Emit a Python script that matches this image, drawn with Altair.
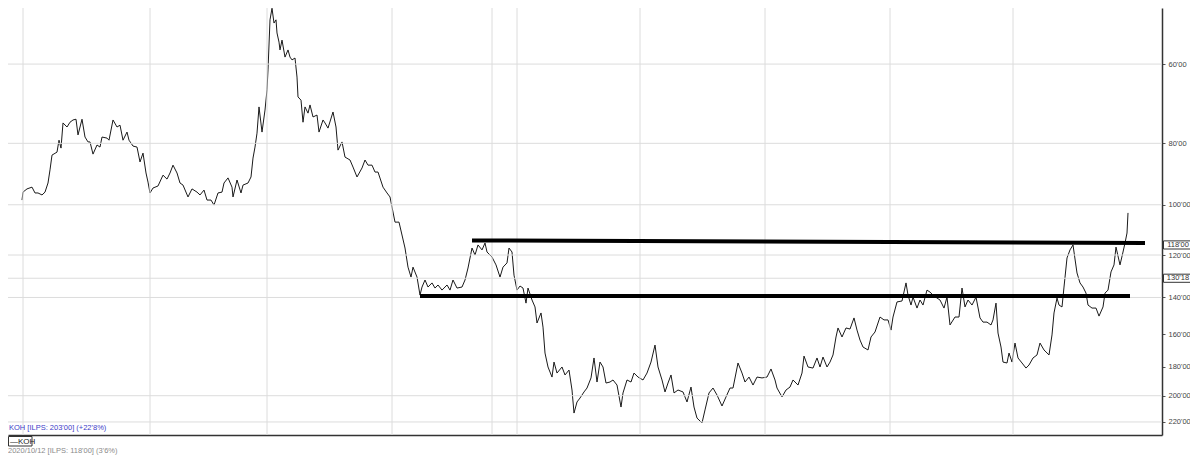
import altair as alt
import pandas as pd

# ---- price series (bar index, price) ----
bars = [
    0, 1, 5, 10, 13, 16, 20, 23, 26, 28, 30, 35, 37, 39, 41, 45, 48, 51, 54, 56,
    60, 63, 66, 68, 71, 75, 78, 80, 85, 87, 91, 95, 98, 101, 105, 107, 111, 115, 118, 121,
    124, 126, 128, 131, 136, 141, 145, 148, 151, 155, 158, 161, 166, 170, 175, 178, 182, 185, 189, 192,
    196, 200, 202, 206, 210, 211, 215, 219, 221, 226, 229, 231, 233, 235, 237, 240, 243, 245, 246, 248, 250,
    252, 254, 255, 257, 258, 260, 263, 266, 268, 270, 273, 275, 276, 279, 281, 283, 286, 288, 291, 295,
    297, 301, 303, 306, 311, 314, 316, 320, 323, 328, 331, 335, 340, 343, 346, 350, 353, 356, 361, 365,
    368, 373, 377, 383, 386, 389, 391, 395, 398,
    400, 403, 406, 410, 413, 416, 420, 425, 428, 431, 435, 440, 443, 446, 450, 453, 456, 460, 463, 465,
    470, 474, 478, 481, 485, 487, 490, 492, 495, 498, 501, 504, 506, 510, 513, 515, 519, 521, 523, 526,
    530, 532, 535, 540, 543, 547, 550, 552, 555, 558, 562, 565, 569, 572, 575, 578, 581, 584, 588, 591,
    595, 599, 601, 605, 609, 612, 616, 621, 625, 629, 633, 636, 640, 643, 646, 649, 652, 656,
    661, 665, 669, 672, 675, 680, 683, 687, 691, 695, 700, 704, 708, 711, 716, 720, 723, 727, 731, 735,
    740, 745, 749, 753, 755, 760, 764, 768, 771, 776, 780, 782, 786, 791, 795, 798, 801, 805, 808, 811,
    814, 816, 820, 824, 828, 832, 835, 838, 841, 846, 849, 853, 858, 862, 866, 869, 871, 875, 880, 884,
    886, 889, 891, 895,
    898, 901, 905, 908, 911, 915, 918, 922, 925, 928, 933, 937, 940, 943, 946, 950, 954, 958, 961, 965,
    969, 971, 974, 976, 979, 981, 985, 987, 990, 993, 996, 1000, 1004, 1007, 1011, 1015, 1018, 1022, 1027, 1030,
    1032, 1035, 1037, 1040, 1042, 1045, 1048, 1051, 1055, 1058, 1061, 1064, 1066, 1070, 1074, 1077, 1081, 1083, 1086, 1089,
    1092, 1094, 1098, 1101, 1103, 1105, 1106,
]
prices = [
    98.3, 95.5, 94.4, 93.8, 95.8, 95.8, 96.5, 95.5, 92.4, 88.1, 83.5, 82.6, 79.1, 81.4, 74.3, 75.4, 74.1, 73.5, 73.3, 77.6,
    73.3, 78.2, 79.6, 79.6, 83.2, 80.5, 81.1, 78.2, 78.5, 79.1, 73.5, 75.4, 74.9, 79.1, 76.8, 79.1, 80.8, 81.1, 85.6, 82.9,
    89.1, 92.1, 95.8, 94.1, 93.4, 89.8, 91.1, 89.1, 86.6, 89.1, 92.4, 93.1, 97.2, 94.4, 95.5, 96.5, 94.8, 98.3, 98.3, 100.1,
    95.8, 95.5, 92.4, 90.7, 93.8, 97.2, 91.4, 95.8, 93.1, 92.4, 90.4, 84.4, 81.1, 77.1, 70.1, 76.8, 70.9, 65.9, 61.3, 51.1, 49.0,
    51.7, 51.1, 53.6, 55.4, 57.0, 55.0, 58.5, 57.0, 58.5, 59.1, 58.7, 62.9, 67.6, 68.4, 74.1, 70.1, 71.7, 69.6, 72.7, 72.2,
    76.8, 73.5, 74.3, 75.7, 71.4, 75.4, 82.0, 79.6, 84.1, 85.0, 87.2, 90.4, 87.5, 85.0, 86.6, 86.6, 88.8, 88.8, 93.8, 95.8,
    97.2, 106.5, 106.5, 117.0, 125.4, 130.0, 125.4, 130.0, 138.8,
    134.8, 131.4, 134.8, 132.8, 135.3, 133.8, 136.3, 133.8, 136.3, 131.4, 135.3, 134.8, 131.4, 125.8, 117.0, 120.0, 115.7, 117.8, 114.9, 118.7,
    120.9, 124.4, 130.0, 125.4, 123.5, 117.0, 118.7, 129.1, 136.3, 134.3, 135.3, 142.9, 135.3, 141.3, 144.9, 153.6, 148.1, 155.9, 171.3, 180.2,
    186.9, 177.0, 184.2, 180.2, 185.5, 182.2, 195.9, 213.0, 204.6, 201.7, 197.3, 194.5, 187.5, 174.4, 190.3, 177.0, 180.2, 191.0, 190.3, 188.9,
    192.4, 208.4, 198.0, 188.9, 190.3, 184.2, 186.9, 188.9, 184.2, 177.0, 166.4, 180.2, 188.9, 197.3, 191.0, 185.5, 198.0, 195.9,
    197.3, 204.6, 193.8, 208.4, 216.9, 220.8, 210.6, 198.0, 194.5, 199.5, 207.6, 200.9, 194.5, 194.5, 177.6, 184.2, 190.3, 186.9, 192.4, 186.9,
    187.5, 186.9, 181.5, 188.9, 194.5, 200.9, 195.9, 193.8, 188.9, 192.4, 184.2, 173.2, 180.2, 180.9, 174.4, 180.2, 173.8, 180.2, 177.0, 172.5,
    161.6, 156.4, 161.6, 156.4, 157.0, 150.8, 157.6, 163.4, 167.6, 169.4, 161.6, 158.7, 150.3, 151.9, 151.9, 157.6, 150.3, 142.3, 141.8, 132.8,
    138.8, 143.9, 139.8, 145.5,
    141.3, 143.9, 136.3, 137.3, 138.8, 140.3, 141.3, 145.5, 139.8, 154.7, 150.3, 150.3, 135.3, 144.9, 141.3, 143.9, 139.8, 150.8, 153.1, 153.1,
    154.7, 151.9, 142.9, 159.3, 167.6, 177.0, 177.6, 171.3, 177.0, 165.2, 174.4, 177.6, 180.9, 178.9, 174.4, 172.5, 165.2, 169.4, 172.5, 160.4,
    148.1, 140.3, 143.9, 144.9, 134.8, 121.3, 117.8, 115.7, 128.1, 132.8, 134.8, 137.8, 143.9, 145.5, 145.5, 149.8, 144.9, 137.8, 136.3, 127.6,
    124.4, 116.6, 124.4, 118.7, 114.9, 110.8, 103.0,
]
assert len(bars) == len(prices)

# axis ticks and grid
tick_values = [60, 80, 100, 120, 140, 160, 180, 200, 220]
grid_prices = [60, 80, 100, 120, 130.5625, 140, 200, 220]
grid_bars = [1, 128, 245, 370, 470, 495, 618, 743, 868, 991]

# hand-drawn trend lines
resist_bars = [450, 1123]
resist_prices = [113.8, 114.9]
support_bars = [398, 1108]
support_prices = [139.3, 139.3]

# price tags on the axis
tag_prices = [115.7, 130.5625]
tag_labels = ["118'00", "130'18"]

legend_title = "KOH [ILPS: 203'00] (+22'8%)"
legend_name = "—KOH"
footer_text = "2020/10/12 [ILPS: 118'00] (3'6%)"

W, H = 1154, 427
FONT = "Liberation Sans"

xs = alt.Scale(domain=[-14, 1140], nice=False, zero=False)
ys = alt.Scale(type="log", domain=[48.95, 230.66], reverse=True, nice=False)

xaxis = alt.Axis(orient="bottom", labels=False, ticks=False, grid=False, title=None,
                 domainColor="#333333", domainWidth=1.5)
yaxis = alt.Axis(orient="right", values=tick_values, labelExpr="datum.value + \"'00\"",
                 grid=False, title=None, tickSize=3, tickColor="#555555",
                 domainColor="#333333", domainWidth=1.5,
                 labelFont=FONT, labelFontSize=7.5, labelColor="#444444", labelPadding=3)

line = alt.Chart(pd.DataFrame({"bar": bars, "price": prices})).mark_line(
    color="#1a1a1a", strokeWidth=1, clip=True
).encode(
    x=alt.X("bar:Q", scale=xs, axis=xaxis),
    y=alt.Y("price:Q", scale=ys, axis=yaxis),
)

grid_h = alt.Chart(pd.DataFrame({"price": grid_prices})).mark_rule(
    color="#dcdcdc", strokeWidth=1
).encode(y=alt.Y("price:Q", scale=ys, axis=yaxis))

grid_v = alt.Chart(pd.DataFrame({"bar": grid_bars})).mark_rule(
    color="#dcdcdc", strokeWidth=1
).encode(x=alt.X("bar:Q", scale=xs, axis=xaxis))

trend_df = pd.DataFrame({
    "bar": resist_bars + support_bars,
    "price": resist_prices + support_prices,
    "grp": ["resistance"] * 2 + ["support"] * 2,
})
trend = alt.Chart(trend_df).mark_line(color="#000000", strokeWidth=4).encode(
    x=alt.X("bar:Q", scale=xs, axis=xaxis),
    y=alt.Y("price:Q", scale=ys, axis=yaxis),
    detail="grp:N",
)

tag_df = pd.DataFrame({"price": tag_prices, "label": tag_labels})
tag_box = alt.Chart(tag_df).mark_point(
    shape="M-1,-0.28H1V0.28H-1Z", filled=True, fill="#ffffff", fillOpacity=1,
    stroke="#333333", strokeWidth=1, size=841, opacity=1
).encode(x=alt.value(1170), y=alt.Y("price:Q", scale=ys, axis=yaxis))
tag_text = alt.Chart(tag_df).mark_text(
    font=FONT, fontSize=7.5, color="#333333", align="center", baseline="middle"
).encode(x=alt.value(1170), y=alt.Y("price:Q", scale=ys, axis=yaxis), text="label:N")

title_txt = alt.Chart(pd.DataFrame({"t": [legend_title]})).mark_text(
    font=FONT, fontSize=7.5, color="#3b3bc8", align="left", baseline="middle"
).encode(x=alt.value(1), y=alt.value(420), text="t:N")

leg_box = alt.Chart(pd.DataFrame({"n": [1]})).mark_rect(
    fill="#ffffff", stroke="#333333", strokeWidth=1
).encode(x=alt.value(0.5), x2=alt.value(24), y=alt.value(428.5), y2=alt.value(438))
leg_txt = alt.Chart(pd.DataFrame({"t": [legend_name]})).mark_text(
    font=FONT, fontSize=8, color="#222222", align="left", baseline="middle"
).encode(x=alt.value(2), y=alt.value(433.5), text="t:N")
foot_txt = alt.Chart(pd.DataFrame({"t": [footer_text]})).mark_text(
    font=FONT, fontSize=7.5, color="#8a8a8a", align="left", baseline="middle"
).encode(x=alt.value(0), y=alt.value(443), text="t:N")

chart = alt.layer(
    line, grid_h, grid_v, trend, tag_box, tag_text,
    title_txt, leg_box, leg_txt, foot_txt
).properties(
    width=W, height=H,
    autosize=alt.AutoSizeParams(type="none"),
    padding={"left": 0, "top": 0, "right": 28, "bottom": 22},
).configure_view(stroke=None)

chart.save("out.html", embed_options={"renderer": "svg", "actions": False})
